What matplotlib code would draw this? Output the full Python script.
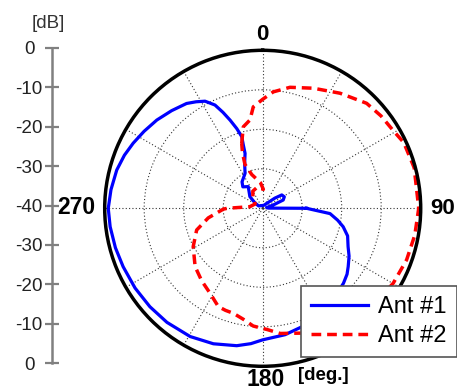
import matplotlib as mpl
mpl.use('Agg')
import matplotlib.pyplot as plt
import numpy as np

plt.rcParams['font.family'] = ['Liberation Sans', 'DejaVu Sans']

W, H = 457, 390

# Ant #1 trace, in drawing order (angle deg clockwise from top, level dB)
ant1_deg = [90, 94.5, 99, 102.9, 108, 114.2, 119, 124.3, 128, 132.9, 140, 150,
            161.8, 170, 180, 185, 190.7, 200, 209.5, 220, 228.9, 238, 247.3,
            255, 263.1, 270, 277, 284.7, 291, 296.7, 303, 309.8, 317, 324, 328,
            331.7, 335.2, 337.5, 339.7, 342, 343.7, 343, 342.2, 338, 333.2, 322,
            317.2, 326.3, 312.4, 305, 300, 20, 50, 55, 62, 68, 72, 80, 88, 90]
ant1_db = [-28.9, -22.9, -20.8, -19.1, -17.4, -16.3, -15.0, -13.8, -12.9, -12.1,
           -11.2, -9.9, -8.4, -7.5, -6.7, -5.6, -4.6, -3.5, -2.7, -2.3, -2.1,
           -1.9, -1.7, -1.4, -1.1, -0.9, -1.3, -1.8, -2.5, -3.3, -4.2, -5.1,
           -6.2, -7.2, -8.2, -9.2, -11.2, -13.7, -16.2, -18.8, -21.1, -23.2,
           -25.4, -27.8, -30.1, -31.5, -32.6, -33.4, -35.6, -37.6, -38.8,
           -39.2, -36.0, -34.1, -33.8, -34.4, -37.0, -39.0, -38.5, -28.9]

# Ant #2 trace
ant2_deg = [342.1, 346.6, 351.8, 354.7, 0, 5.2, 12.7, 22.9, 33.9, 44.7, 52, 59.6,
            65, 75, 90, 100, 109.7, 119.9, 130, 140, 150, 160, 172, 178, 184.6,
            190, 195.6, 200, 204.3, 211.8, 220, 229.2, 241.1, 251.8, 260, 268.7,
            270, 277, 300, 318, 330, 345, 2, 355, 342, 338, 340, 342.1]
ant2_db = [-22.7, -18.8, -17.4, -14.2, -12.4, -10.4, -8.6, -7.0, -4.9, -2.6,
           -2.0, -1.5, -0.6, -0.3, -0.5, -0.9, -1.3, -1.9, -2.8, -3.8, -5.0,
           -6.4, -8.0, -9.3, -10.1, -11.5, -12.4, -12.5, -12.7, -14.7, -16.0,
           -17.4, -19.9, -22.4, -26.0, -30.0, -31.0, -36.7, -37.8, -36.3, -35.0,
           -34.5, -35.2, -33.5, -31.0, -28.0, -25.0, -22.7]

r_ticks = [-30, -20, -10]
theta_ticks = list(range(0, 360, 30))
scale_pos = [40, 30, 20, 10, 0, -10, -20, -30, -40]
scale_labels = ['0', '-10', '-20', '-30', '-40', '-30', '-20', '-10', '0']

fig = plt.figure(figsize=(W / 100, H / 100), dpi=100)

cx, cy, R = 262.7, 208.3, 158
ax = fig.add_axes([(cx - R) / W, 1 - (cy + R) / H, 2 * R / W, 2 * R / H],
                  projection='polar')
ax.set_theta_zero_location('N')
ax.set_theta_direction(-1)
ax.set_rlim(-40, 0)
ax.set_rticks(r_ticks)
ax.set_yticklabels([])
ax.set_xticks(np.deg2rad(theta_ticks))
ax.set_xticklabels([])
ax.grid(True, linestyle=(0, (1, 2)), color='#333333', linewidth=0.8)
ax.spines['polar'].set_linewidth(2.5)
ax.spines['polar'].set_color('black')

l1, = ax.plot(np.deg2rad(ant1_deg), ant1_db, color='#0000ff', lw=2.3,
              label='Ant #1')
l2, = ax.plot(np.deg2rad(ant2_deg), ant2_db, color='#ff0000', lw=2.5,
              dashes=(2.8, 1.7), label='Ant #2')

# left dB scale
sax = fig.add_axes([51.7 / W, 1 - 363 / H, 0.001, 315 / H])
sax.set_ylim(-40, 40)
sax.set_xticks([])
sax.set_yticks(scale_pos)
sax.set_yticklabels(scale_labels, ha='center')
sax.tick_params(axis='y', direction='inout', length=10.5, width=1.6,
                color='#808080', labelcolor='#222222', labelsize=13.6, pad=11)
for s in ['top', 'right', 'bottom']:
    sax.spines[s].set_visible(False)
sax.spines['left'].set_color('#808080')
sax.spines['left'].set_linewidth(1.8)
sax.patch.set_visible(False)

def ftext(x, y, s, **kw):
    fig.text(x / W, 1 - y / H, s, ha='center', va='center', **kw)

ftext(48.5, 23, '[dB]', fontsize=13.6, color='#333333')
ftext(262.5, 35, '0', fontsize=16, fontweight='bold')
ftext(443, 208, '90', fontsize=16, fontweight='bold')
ftext(76, 207, '270', fontsize=16.5, fontweight='bold')
ftext(266, 380, '180', fontsize=16.5, fontweight='bold')
ftext(323, 376, '[deg.]', fontsize=13.5, fontweight='bold')

leg = fig.legend(handles=[l1, l2], loc='upper left',
                 bbox_to_anchor=(301 / W, 1 - 286 / H), borderaxespad=0,
                 fontsize=17, fancybox=False, framealpha=1, edgecolor='#555555',
                 handlelength=2.4, handletextpad=0.45, borderpad=0.42,
                 labelspacing=0.32)
leg.get_frame().set_linewidth(1.2)

plt.savefig('out.png', dpi=100)
plt.close()
